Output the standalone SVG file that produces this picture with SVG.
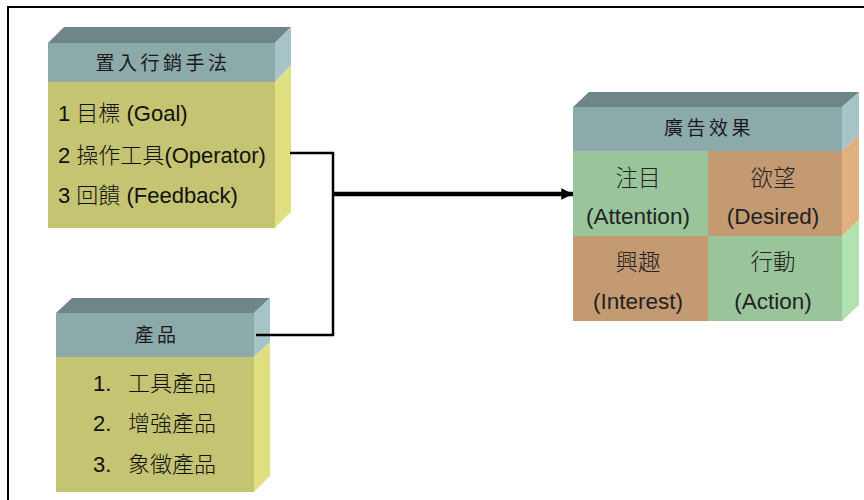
<svg xmlns="http://www.w3.org/2000/svg" width="864" height="500" viewBox="0 0 864 500">
<defs>
<style>
.top{fill:#6F8587}
.hdr{fill:#8DAAAB}
.hside{fill:#A6C4C8}
.body{fill:#C4C472}
.bside{fill:#E0E083}
.green{fill:#9AC59B}
.brown{fill:#C49A73}
.tan{fill:#E0B080}
.lgreen{fill:#B2E2B2}
.ht{font-family:"Noto Sans CJK TC","Noto Sans CJK SC",sans-serif;font-size:19px;fill:#1a1a1a;letter-spacing:3.5px;text-anchor:middle}
.bt{font-family:"Liberation Sans","Noto Sans CJK TC",sans-serif;font-size:22px;fill:#111}
.ct{font-family:"Liberation Sans","Noto Sans CJK TC",sans-serif;font-size:22.5px;fill:#222;text-anchor:middle}
.cj{font-family:"Noto Sans CJK TC",sans-serif;font-weight:300}
.ln{fill:none;stroke:#000;stroke-width:2.5}
</style>
<marker id="ah" viewBox="0 0 10 10" refX="10" refY="5" markerWidth="2.6" markerHeight="2.6" orient="auto" markerUnits="strokeWidth">
<path d="M0,0 L10,5 L0,10 z" fill="#000"/>
</marker>
</defs>
<rect x="8" y="7" width="870" height="500" fill="none" stroke="#000" stroke-width="2"/>

<g id="node-placement">
<polygon class="top" points="48,43 64,27 291,27 275,43"/>
<polygon class="hside" points="275,43 291,27 291,65 275,82"/>
<polygon class="bside" points="275,82 291,65 291,212 275,228"/>
<rect class="hdr" x="48" y="43" width="227" height="39"/>
<rect class="body" x="48" y="82" width="227" height="146"/>
<text class="ht" x="163" y="70">置入行銷手法</text>
<text class="bt" x="58" y="121">1 <tspan class="cj">目標</tspan> (Goal)</text>
<text class="bt" x="58" y="163">2 <tspan class="cj">操作工具</tspan>(Operator)</text>
<text class="bt" x="58" y="203">3 <tspan class="cj">回饋</tspan> (Feedback)</text>
</g>

<g id="node-product">
<polygon class="top" points="56,313 72,298 270,298 254,313"/>
<polygon class="hside" points="254,313 270,298 270,342 254,357"/>
<polygon class="bside" points="254,357 270,342 270,476 254,492"/>
<rect class="hdr" x="56" y="313" width="198" height="44"/>
<rect class="body" x="56" y="357" width="198" height="135"/>
<text class="ht" x="157" y="342">產品</text>
<text class="bt" x="93" y="391">1.</text>
<text class="bt cj" x="128" y="391">工具產品</text>
<text class="bt" x="93" y="431">2.</text>
<text class="bt cj" x="128" y="431">增強產品</text>
<text class="bt" x="93" y="472">3.</text>
<text class="bt cj" x="128" y="472">象徵產品</text>
</g>

<g id="node-effect">
<polygon class="top" points="573,107 589,92 859,92 842,107"/>
<polygon class="hside" points="842,107 859,92 859,135 842,151"/>
<polygon class="tan" points="842,151 859,135 859,220 842,236"/>
<polygon class="lgreen" points="842,236 859,220 859,305 842,321"/>
<rect class="hdr" x="573" y="107" width="269" height="44"/>
<rect class="green" x="573" y="151" width="135" height="85"/>
<rect class="brown" x="708" y="151" width="134" height="85"/>
<rect class="brown" x="573" y="236" width="135" height="85"/>
<rect class="green" x="708" y="236" width="134" height="85"/>
<text class="ht" x="709" y="135">廣告效果</text>
<text class="ct cj" x="638" y="186">注目</text>
<text class="ct" x="638" y="224">(Attention)</text>
<text class="ct cj" x="773" y="186">欲望</text>
<text class="ct" x="773" y="224">(Desired)</text>
<text class="ct cj" x="638" y="270">興趣</text>
<text class="ct" x="638" y="309">(Interest)</text>
<text class="ct cj" x="773" y="270">行動</text>
<text class="ct" x="773" y="309">(Action)</text>
</g>

<g id="connectors">
<polyline class="ln" points="290,153 333,153 333,335 256,335"/>
<line x1="333" y1="194" x2="573" y2="194" stroke="#000" stroke-width="4.5" marker-end="url(#ah)"/>
</g>
</svg>
